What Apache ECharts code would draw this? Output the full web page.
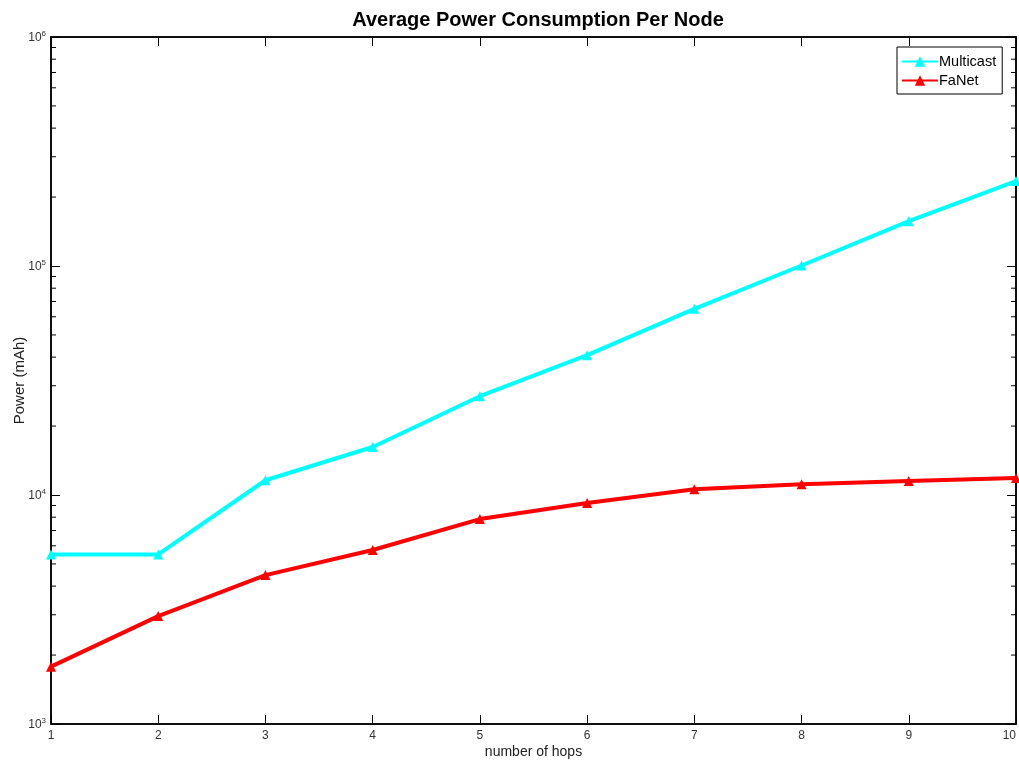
<!DOCTYPE html>
<html><head><meta charset="utf-8">
<script src="https://cdn.jsdelivr.net/npm/echarts@6/dist/echarts.min.js"></script>
<style>html,body{margin:0;padding:0;background:#fff}#c{width:1019px;height:761px}</style>
</head><body><div id="c"></div>
<script>
const hops = [1, 2, 3, 4, 5, 6, 7, 8, 9, 10];
const multicast = [5500, 5500, 11600, 16200, 27000, 40800, 65000, 100500, 157000, 235000];
const fanet = [1780, 2960, 4470, 5750, 7850, 9230, 10600, 11150, 11500, 11850];
const yTicks = [1000, 10000, 100000, 1000000];
const FONT = '"Liberation Sans", Arial, sans-serif';

const chart = echarts.init(document.getElementById('c'), null, {renderer: 'canvas'});
const pair = a => hops.map((h, i) => [h, a[i]]);
const supFmt = v => {
  const e = Math.round(Math.log10(v));
  return '{b|10}{s|' + e + '}';
};
const gridL = 51, gridR = 3, gridT = 37, gridB = 37;
chart.setOption({
  animation: false,
  backgroundColor: '#fff',
  title: {
    text: 'Average Power Consumption Per Node',
    left: 533, top: 5, textAlign: 'center',
    textStyle: {fontFamily: FONT, fontSize: 20, fontWeight: 'bold', color: '#000'}
  },
  legend: {
    left: 897, top: 47, orient: 'vertical',
    backgroundColor: '#fff', borderColor: '#000', borderWidth: 1,
    padding: [7, 6, 6, 4], itemGap: 4, itemWidth: 36, itemHeight: 13,
    textStyle: {fontFamily: FONT, fontSize: 14.5, color: '#000', padding: [0, 0, 0, -4]},
    data: ['Multicast', 'FaNet']
  },
  grid: {left: gridL, right: gridR, top: gridT, bottom: gridB, outerBoundsMode: 'none', containLabel: false,
    show: true, borderColor: '#000', borderWidth: 1.5, backgroundColor: 'transparent'},
  xAxis: [{
    type: 'value', min: 1, max: 10, interval: 1, position: 'bottom',
    name: 'number of hops', nameLocation: 'middle', nameGap: 21, nameMoveOverlap: false,
    nameTextStyle: {fontFamily: FONT, fontSize: 14, color: '#222'},
    axisLine: {show: true, lineStyle: {color: '#000', width: 1.5}},
    axisTick: {show: true, inside: true, length: 9, lineStyle: {color: '#000', width: 1}},
    axisLabel: {fontFamily: FONT, fontSize: 12, color: '#333', margin: 6, alignMaxLabel: 'right'},
    splitLine: {show: false}
  }, {
    type: 'value', min: 1, max: 10, interval: 1, position: 'top',
    axisLine: {show: true, lineStyle: {color: '#000', width: 1.5}},
    axisTick: {show: true, inside: true, length: 9, lineStyle: {color: '#000', width: 1}},
    axisLabel: {show: false}, splitLine: {show: false}
  }],
  yAxis: [{
    type: 'log', logBase: 10, min: 1000, max: 1000000, position: 'left',
    name: 'Power (mAh)', nameLocation: 'middle', nameGap: 24, nameMoveOverlap: false,
    nameTextStyle: {fontFamily: FONT, fontSize: 15, color: '#222'},
    axisLine: {show: true, lineStyle: {color: '#000', width: 1.5}},
    axisTick: {show: true, inside: true, length: 9, lineStyle: {color: '#000', width: 1}},
    axisLabel: {
      formatter: supFmt, margin: 5,
      rich: {
        b: {fontFamily: FONT, fontSize: 12, color: '#333', verticalAlign: 'bottom', lineHeight: 14},
        s: {fontFamily: FONT, fontSize: 8, color: '#333', verticalAlign: 'top', lineHeight: 14, padding: [0, 0, 8, 0]}
      }
    },
    splitLine: {show: false}
  }, {
    type: 'log', logBase: 10, min: 1000, max: 1000000, position: 'right',
    axisLine: {show: true, lineStyle: {color: '#000', width: 1.5}},
    axisTick: {show: true, inside: true, length: 9, lineStyle: {color: '#000', width: 1}},
    axisLabel: {show: false}, splitLine: {show: false}
  }],
  series: [{
    name: 'Multicast', type: 'line', data: pair(multicast),
    symbol: 'triangle', symbolSize: 10,
    lineStyle: {color: '#00ffff', width: 4}, itemStyle: {color: '#00ffff'}
  }, {
    name: 'FaNet', type: 'line', data: pair(fanet),
    symbol: 'triangle', symbolSize: 10,
    lineStyle: {color: '#ff0000', width: 4}, itemStyle: {color: '#ff0000'}
  }]
});

// log-distributed minor ticks, positioned through the axis scale
const graphics = [];
const xL = chart.convertToPixel({xAxisIndex: 0}, 1);
const xR = chart.convertToPixel({xAxisIndex: 0}, 10);
for (let d = 0; d < yTicks.length - 1; d++) {
  for (let m = 2; m <= 9; m++) {
    const y = chart.convertToPixel({yAxisIndex: 0}, yTicks[d] * m);
    graphics.push({type: 'line', shape: {x1: xL, y1: y, x2: xL + 5, y2: y}, style: {stroke: '#000', lineWidth: 1}, z: 10});
    graphics.push({type: 'line', shape: {x1: xR, y1: y, x2: xR - 5, y2: y}, style: {stroke: '#000', lineWidth: 1}, z: 10});
  }
}
chart.setOption({graphic: graphics});
</script></body></html>
